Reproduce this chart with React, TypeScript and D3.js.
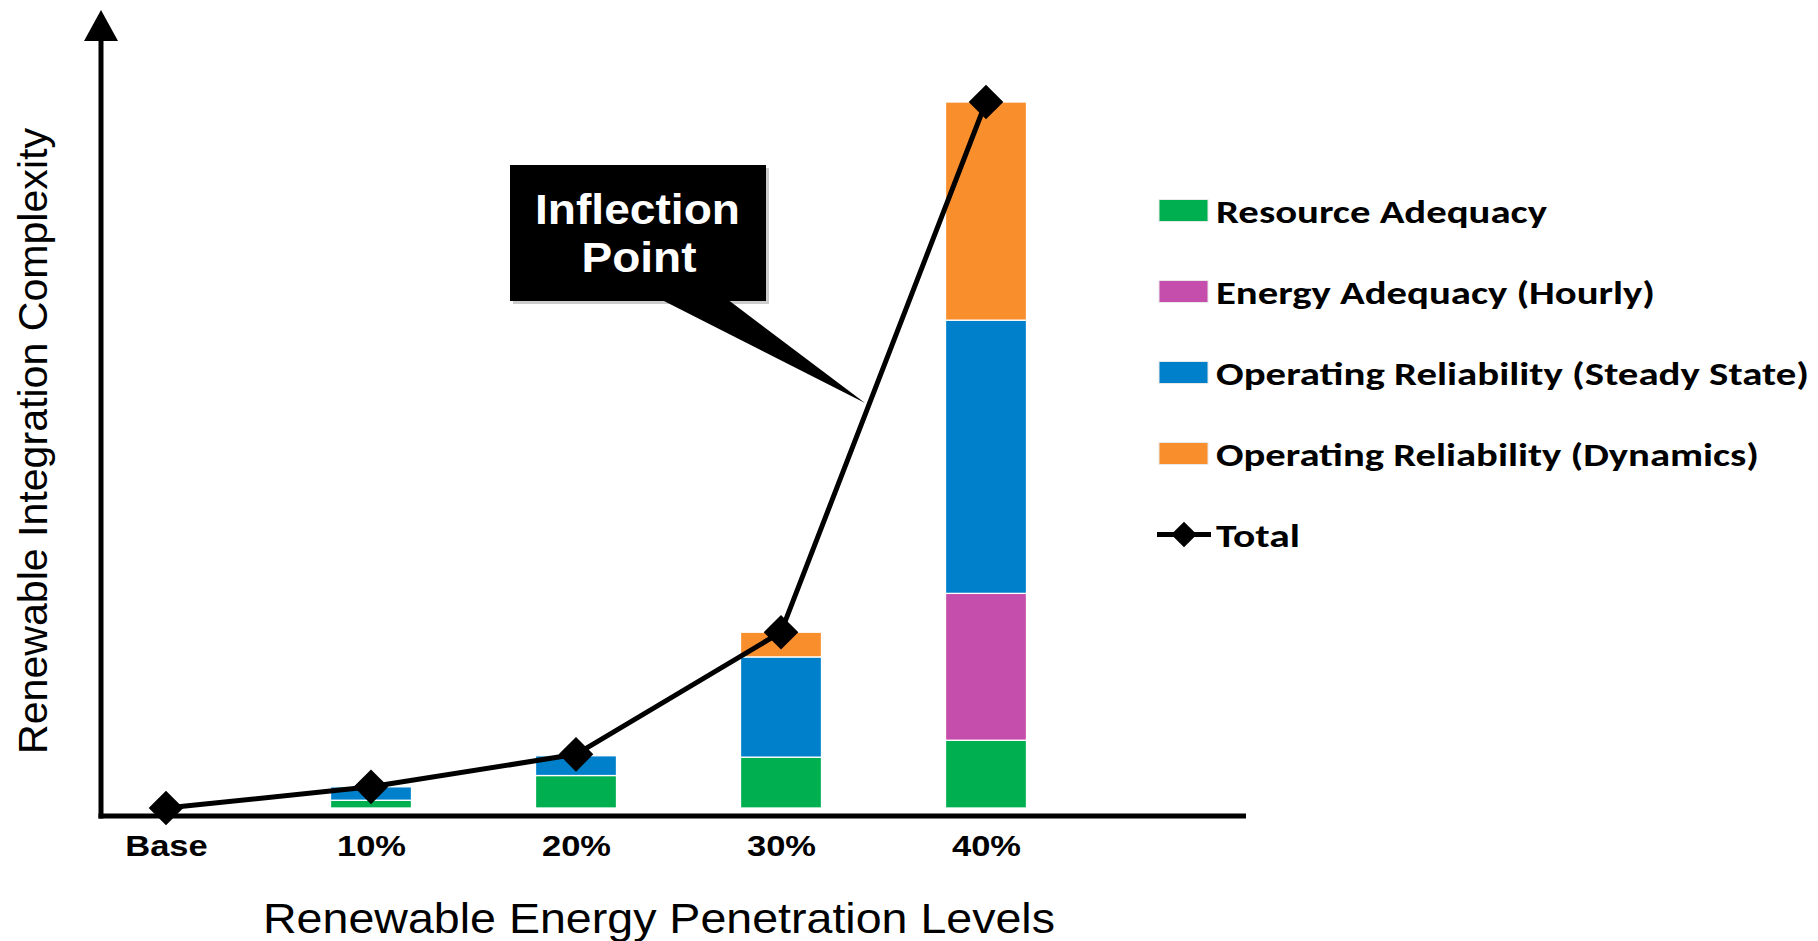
import React, { useEffect, useRef } from 'react';
import * as d3 from 'd3';

// ---- data ----
const categories = ['Base', '10%', '20%', '30%', '40%'];
const resourceAdequacy = [0, 1.1, 4.6, 7.2, 9.6];
const energyAdequacy = [0, 0, 0, 0, 20.8];
const steadyState = [0, 1.9, 2.8, 14.2, 38.7];
const dynamics = [0, 0, 0, 3.5, 30.9];
const total = [0, 3.0, 7.6, 24.9, 100];
const seriesKeys = ['ra', 'ea', 'ss', 'dy'];
const seriesNames = [
  'Resource Adequacy',
  'Energy Adequacy (Hourly)',
  'Operating Reliability (Steady State)',
  'Operating Reliability (Dynamics)',
];
const totalName = 'Total';
const colors = ['#00AF50', '#C54EAD', '#0080CA', '#F98F2C'];
const legendTextWidths = [331, 439, 593, 543];
const totalTextWidth = 84;
const xTitle = 'Renewable Energy Penetration Levels';
const yTitle = 'Renewable Integration Complexity';
const calloutLines = ['Inflection', 'Point'];

// ---- layout ----
const W = 1818;
const H = 941;
const BAR_W = 81;
const ARIAL = "'Liberation Sans', Arial, Helvetica, sans-serif";
const LEGEND_FONT = "Carlito, Lato, 'Open Sans', sans-serif";
const SX = 1.17;

export default function App() {
  const axisRef = useRef<SVGGElement>(null);

  const x = d3.scalePoint<string>().domain(categories).range([166, 986]);
  const y = d3.scaleLinear().domain([0, 100]).range([808, 102]);

  const table = categories.map((c, i) => ({
    cat: c,
    ra: resourceAdequacy[i],
    ea: energyAdequacy[i],
    ss: steadyState[i],
    dy: dynamics[i],
  }));
  const stacked = d3.stack<any>().keys(seriesKeys)(table);

  const linePath = d3
    .line<number>()
    .x((_, i) => x(categories[i]) as number)
    .y((d) => y(d))(total);

  const diamond = d3.symbol().type(d3.symbolSquare).size(600)();
  const legendDiamond = d3.symbol().type(d3.symbolSquare).size(330)();

  useEffect(() => {
    document.body.style.margin = '0';
    document.body.style.overflow = 'hidden';
    if (!axisRef.current) return;
    const g = d3.select(axisRef.current);
    g.call(d3.axisBottom(x).tickSize(0).tickPadding(0));
    g.select('.domain').remove();
    g.attr('font-size', 29.5)
      .attr('font-family', ARIAL)
      .attr('font-weight', 'bold');
    g.selectAll('text')
      .attr('y', 40)
      .attr('dy', null)
      .attr('fill', '#000')
      .attr('transform', `scale(${SX},1)`);
  }, []);

  const legendRowY = (i: number) => 210.5 + i * 81;

  return (
    <svg
      width={W}
      height={H}
      style={{ position: 'absolute', left: 0, top: 0, background: '#fff' }}
    >
      <rect x={0} y={0} width={W} height={H} fill="#fff" />

      {/* stacked bars */}
      {stacked.map((layer, si) => (
        <g key={seriesKeys[si]} fill={colors[si]}>
          {layer.map((d, i) => {
            const h = y(d[0]) - y(d[1]);
            if (h <= 0.01) return null;
            return (
              <rect
                key={i}
                x={(x(categories[i]) as number) - BAR_W / 2}
                y={y(d[1])}
                width={BAR_W}
                height={h}
                stroke="#fff"
                strokeWidth={1.3}
              />
            );
          })}
        </g>
      ))}

      {/* axes */}
      <line x1={98.5} x2={1246} y1={816} y2={816} stroke="#000" strokeWidth={5} />
      <line x1={101} x2={101} y1={818.5} y2={38} stroke="#000" strokeWidth={5} />
      <polygon points="101,10 84,41 118,41" fill="#000" />
      <g ref={axisRef} transform="translate(0,816)" />

      {/* total line */}
      <path
        d={linePath || ''}
        fill="none"
        stroke="#000"
        strokeWidth={5}
        strokeLinejoin="round"
      />
      {total.map((v, i) => (
        <path
          key={i}
          d={diamond || ''}
          transform={`translate(${x(categories[i])},${y(v)}) rotate(45)`}
          fill="#000"
        />
      ))}

      {/* callout */}
      <rect x={513} y={168} width={256} height={136} fill="#9a9a9a" opacity={0.5} />
      <rect x={510} y={165} width={256} height={136} fill="#000" />
      <polygon points="660,299 727,299 865,403" fill="#000" />
      <text
        x={637.5}
        y={224}
        textAnchor="middle"
        fontFamily={ARIAL}
        fontWeight="bold"
        fontSize={43}
        fill="#fff"
        textLength={205}
        lengthAdjust="spacingAndGlyphs"
      >
        {calloutLines[0]}
      </text>
      <text
        x={639}
        y={272}
        textAnchor="middle"
        fontFamily={ARIAL}
        fontWeight="bold"
        fontSize={43}
        fill="#fff"
        textLength={115}
        lengthAdjust="spacingAndGlyphs"
      >
        {calloutLines[1]}
      </text>

      {/* axis titles */}
      <text
        x={659}
        y={933}
        textAnchor="middle"
        fontFamily={ARIAL}
        fontSize={42}
        fill="#000"
        textLength={792}
        lengthAdjust="spacingAndGlyphs"
      >
        {xTitle}
      </text>
      <text
        transform="translate(47,441) rotate(-90)"
        textAnchor="middle"
        fontFamily={ARIAL}
        fontSize={41}
        fill="#000"
        textLength={626}
        lengthAdjust="spacingAndGlyphs"
      >
        {yTitle}
      </text>

      {/* legend */}
      {seriesNames.map((name, i) => (
        <g key={name}>
          <rect
            x={1159}
            y={legendRowY(i) - 11}
            width={49}
            height={22}
            fill={colors[i]}
            stroke="#e8e8e8"
            strokeWidth={1}
          />
          <text
            x={1216}
            y={legendRowY(i) + 12}
            fontFamily={LEGEND_FONT}
            fontWeight="bold"
            fontSize={33}
            fill="#000"
            textLength={legendTextWidths[i]}
            lengthAdjust="spacingAndGlyphs"
          >
            {name}
          </text>
        </g>
      ))}
      <g>
        <line
          x1={1157}
          x2={1211}
          y1={legendRowY(4)}
          y2={legendRowY(4)}
          stroke="#000"
          strokeWidth={5}
        />
        <path
          d={legendDiamond || ''}
          transform={`translate(1184,${legendRowY(4)}) rotate(45)`}
          fill="#000"
        />
        <text
          x={1216}
          y={legendRowY(4) + 12}
          fontFamily={LEGEND_FONT}
          fontWeight="bold"
          fontSize={33}
          fill="#000"
          textLength={totalTextWidth}
          lengthAdjust="spacingAndGlyphs"
        >
          {totalName}
        </text>
      </g>
    </svg>
  );
}
